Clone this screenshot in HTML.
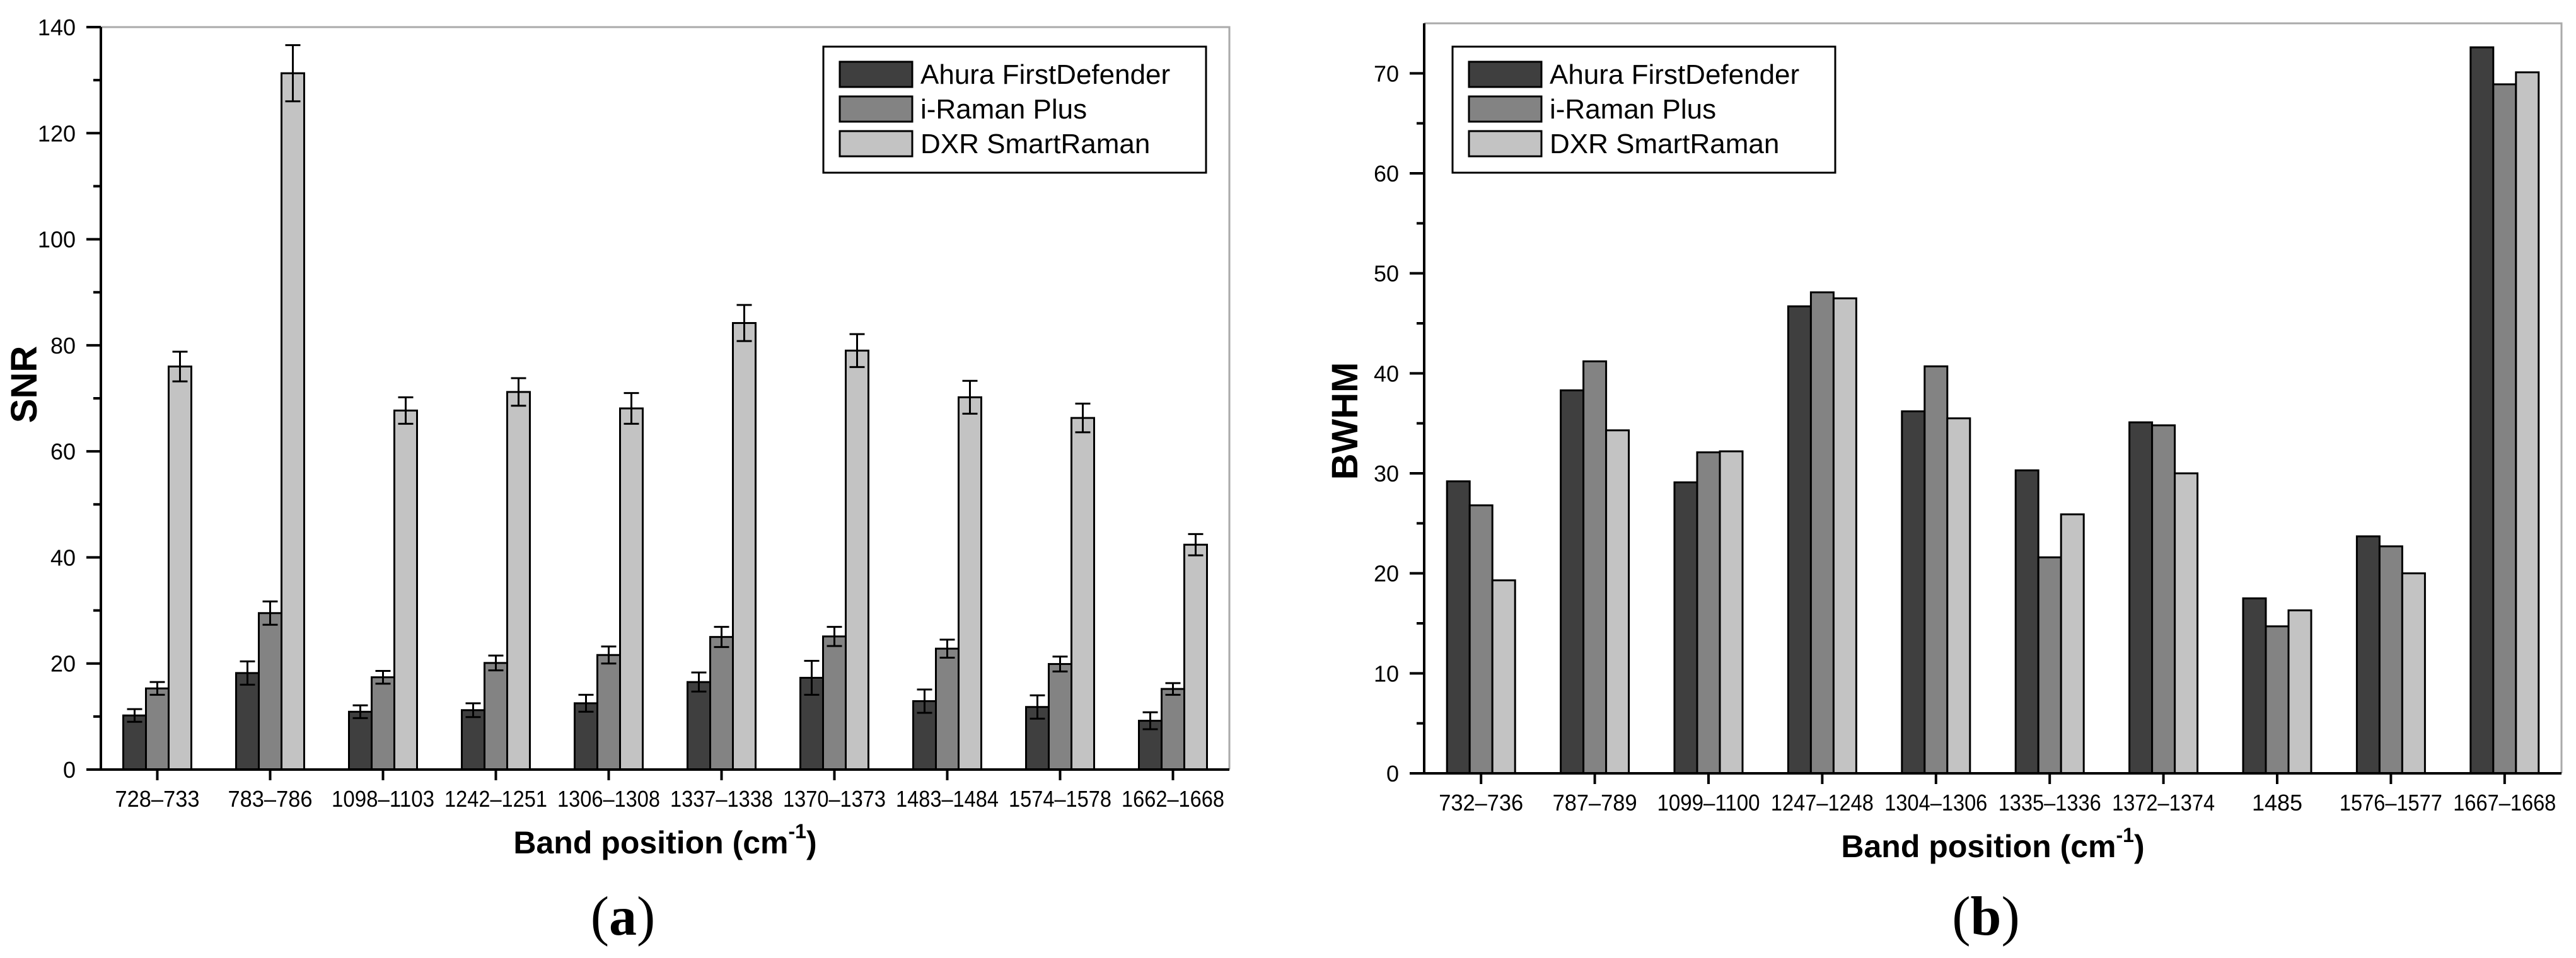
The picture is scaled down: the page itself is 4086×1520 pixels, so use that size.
<!DOCTYPE html>
<html><head><meta charset="utf-8"><style>
html,body{margin:0;padding:0;background:#fff;}
svg{display:block;}
text{font-family:"Liberation Sans",Arial,sans-serif;fill:#000;}
</style></head><body>
<svg id="fig" width="4086" height="1520" viewBox="0 0 4086 1520" xmlns="http://www.w3.org/2000/svg">
<g id="chartA"></g>
<g id="chartB"></g>
<text x="988" y="1483" font-size="88" text-anchor="middle" style="font-family:'Liberation Serif',serif">(<tspan font-weight="bold">a</tspan>)</text>
<text x="3150" y="1483" font-size="88" text-anchor="middle" style="font-family:'Liberation Serif',serif">(<tspan font-weight="bold">b</tspan>)</text>
</svg>
<script>
const seriesNames = ["Ahura FirstDefender", "i-Raman Plus", "DXR SmartRaman"];
const categoriesA = ["728–733","783–786","1098–1103","1242–1251","1306–1308","1337–1338","1370–1373","1483–1484","1574–1578","1662–1668"];
const snrAhura = [10.2,18.2,10.9,11.2,12.5,16.5,17.3,12.9,11.8,9.2];
const snrIRaman = [15.3,29.5,17.4,20.1,21.6,25.0,25.1,22.8,19.9,15.2];
const snrDXR = [76.0,131.3,67.7,71.2,68.1,84.2,79.0,70.2,66.3,42.4];
const errAhura = [1.2,2.2,1.2,1.3,1.6,1.8,3.2,2.2,2.2,1.6];
const errIRaman = [1.2,2.2,1.2,1.4,1.6,1.9,1.8,1.7,1.4,1.1];
const errDXR = [2.8,5.3,2.5,2.6,2.9,3.4,3.1,3.1,2.7,2.0];
const ticksA = [0,20,40,60,80,100,120,140];
const categoriesB = ["732–736","787–789","1099–1100","1247–1248","1304–1306","1335–1336","1372–1374","1485","1576–1577","1667–1668"];
const bwhmAhura = [29.2,38.3,29.1,46.7,36.2,30.3,35.1,17.5,23.7,72.6];
const bwhmIRaman = [26.8,41.2,32.1,48.1,40.7,21.6,34.8,14.7,22.7,68.9];
const bwhmDXR = [19.3,34.3,32.2,47.5,35.5,25.9,30.0,16.3,20.0,70.1];
const ticksB = [0,10,20,30,40,50,60,70];

const NS="http://www.w3.org/2000/svg";
const fills=["#3f3f3f","#838383","#c3c3c3"];
function mk(parent,tag,attrs){const e=document.createElementNS(NS,tag);for(const k in attrs)e.setAttribute(k,attrs[k]);parent.appendChild(e);return e;}

function drawChart(g,cfg){
  const {x0,x1,y0,y1,vmax,cats,series,errs,ticks,minor,ytitle,ytx,yty,legend}=cfg;
  const band=(x1-x0)/cats.length;
  const xc=i=>x0+(i+0.5)*band;
  const yv=v=>y0-(v/vmax)*(y0-y1);
  const bw=36;
  const fr=mk(g,'path',{d:`M${x0},${y1}H${x1}V${y0}`,fill:'none',stroke:'#aaa','stroke-width':3});
  
  
  series.forEach((vals,s)=>{
    vals.forEach((v,i)=>{
      const bx=xc(i)+(s-1.5)*bw;
      const r=mk(g,'rect',{x:bx,y:yv(v),width:bw,height:y0-yv(v),fill:fills[s],stroke:'#000','stroke-width':3});
      
      
      if(errs){
        const e=errs[s][i];const cx=bx+bw/2;
        const p=mk(g,'path',{d:`M${cx},${yv(v+e)}V${yv(v-e)}M${cx-12},${yv(v+e)}H${cx+12}M${cx-12},${yv(v-e)}H${cx+12}`,stroke:'#000','stroke-width':3,fill:'none'});
        
        
      }
    });
  });
  const ax=mk(g,'path',{d:`M${x0},${y1}V${y0}H${x1}`,fill:'none',stroke:'#000','stroke-width':4});
  
  
  ticks.forEach(t=>{
    const y=yv(t);
    mk(g,'line',{x1:x0-23,x2:x0,y1:y,y2:y,stroke:'#000','stroke-width':4});
    const tx=mk(g,'text',{x:x0-40,y:y+13,'font-size':36,'text-anchor':'end'});
    tx.textContent=t;
    
    
    const m=t+minor;
    if(m<vmax) mk(g,'line',{x1:x0-12,x2:x0,y1:yv(m),y2:yv(m),stroke:'#000','stroke-width':4});
  });
  cats.forEach((c,i)=>{
    mk(g,'line',{x1:xc(i),x2:xc(i),y1:y0,y2:y0+17,stroke:'#000','stroke-width':4});
    const tx=mk(g,'text',{x:xc(i),y:y0+59,'font-size':36,'text-anchor':'middle'});
    tx.textContent=c;
    if(c.length>=9){tx.setAttribute('textLength',163);tx.setAttribute('lengthAdjust','spacingAndGlyphs');}
    else if(c.length>=7){tx.setAttribute('textLength',134);tx.setAttribute('lengthAdjust','spacingAndGlyphs');}
    
    
  });
  const xt=mk(g,'text',{x:(x0+x1)/2,y:y0+133,'font-size':50,'font-weight':'bold','text-anchor':'middle'});
  xt.innerHTML='Band position (cm<tspan font-size="32" dy="-24">-1</tspan><tspan dy="24">)</tspan>';
  
  
  const yt=mk(g,'text',{x:ytx,y:yty,'font-size':58,'font-weight':'bold','text-anchor':'middle',transform:`rotate(-90 ${ytx} ${yty})`});
  yt.textContent=ytitle;
  
  
  const lg=mk(g,'g',{});
  
  
  mk(lg,'rect',{x:legend.x,y:74,width:607,height:200,fill:'#fff',stroke:'#000','stroke-width':3});
  seriesNames.forEach((n,s)=>{
    const yy=98+s*55;
    const sw=mk(lg,'rect',{x:legend.x+26,y:yy,width:115,height:40,fill:fills[s],stroke:'#000','stroke-width':3});
    
    
    const t=mk(lg,'text',{x:legend.x+154,y:yy+35,'font-size':44});
    t.textContent=n;
    
    
  });
}
drawChart(document.getElementById('chartA'),{x0:160,x1:1950,y0:1221,y1:43,vmax:140,cats:categoriesA,
  series:[snrAhura,snrIRaman,snrDXR],errs:[errAhura,errIRaman,errDXR],ticks:ticksA,minor:10,
  ytitle:'SNR',ytx:58,yty:610,legend:{x:1306}});
drawChart(document.getElementById('chartB'),{x0:2259,x1:4063,y0:1227,y1:37,vmax:75,cats:categoriesB,
  series:[bwhmAhura,bwhmIRaman,bwhmDXR],errs:null,ticks:ticksB,minor:5,
  ytitle:'BWHM',ytx:2153,yty:668,legend:{x:2304}});
</script>
</body></html>
